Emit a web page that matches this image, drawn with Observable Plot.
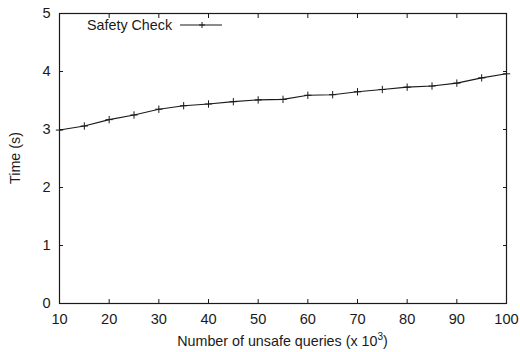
<!DOCTYPE html>
<html>
<head>
<meta charset="utf-8">
<script src="https://cdn.jsdelivr.net/npm/d3@7"></script>
<script src="https://cdn.jsdelivr.net/npm/@observablehq/plot@0.6"></script>
<style>
  html, body { margin: 0; padding: 0; background: #fff; }
</style>
</head>
<body>
<div id="chart"></div>
<script>
const queries = [10, 15, 20, 25, 30, 35, 40, 45, 50, 55, 60, 65, 70, 75, 80, 85, 90, 95, 100];
const times = [2.99, 3.06, 3.17, 3.25, 3.35, 3.41, 3.44, 3.48, 3.51, 3.52, 3.59, 3.60, 3.65, 3.69, 3.73, 3.75, 3.80, 3.89, 3.96];
const xTicks = [10, 20, 30, 40, 50, 60, 70, 80, 90, 100];
const yTicks = [0, 1, 2, 3, 4, 5];
const seriesName = "Safety Check";
const xLabel = "Number of unsafe queries (x 10";
const xLabelSup = "3";
const yLabel = "Time (s)";

const data = queries.map((q, i) => ({q, t: times[i]}));
const ink = "#1a1a1a";
const font = '"Liberation Sans", Arial, sans-serif';
const fs = "14.3px";
const tfs = "14.6px";
const tick = 4;

const plot = Plot.plot({
  width: 520,
  height: 352,
  marginLeft: 59,
  marginRight: 14,
  marginTop: 13,
  marginBottom: 49,
  style: {fontFamily: font, fontSize: fs, color: ink, background: "white"},
  x: {domain: [10, 100]},
  y: {domain: [0, 5]},
  marks: [
    Plot.axisX(xTicks, {anchor: "bottom", tickSize: 0, tickPadding: 10, label: null, fill: ink, tickFormat: "d"}),
    Plot.axisY(yTicks, {anchor: "left", tickSize: 0, tickPadding: 9, label: null, fill: ink, tickFormat: "d"}),
    Plot.axisX(xTicks, {anchor: "bottom", tickSize: tick, dy: -tick, text: null, label: null, stroke: ink}),
    Plot.axisX(xTicks, {anchor: "top", tickSize: tick, dy: tick, text: null, label: null, stroke: ink}),
    Plot.axisY(yTicks, {anchor: "left", tickSize: tick, dx: tick, text: null, label: null, stroke: ink}),
    Plot.axisY(yTicks, {anchor: "right", tickSize: tick, dx: -tick, text: null, label: null, stroke: ink}),
    Plot.frame({stroke: ink, strokeWidth: 1.2}),
    Plot.line(data, {x: "q", y: "t", stroke: ink, strokeWidth: 1.1}),
    Plot.dot(data, {x: "q", y: "t", symbol: "plus", r: 2.5, stroke: ink, strokeWidth: 1})
  ]
});

const svg = d3.select(plot);
svg.selectAll("text").style("font-size", tfs).style("font-family", font);
const txt = (sel) => sel.attr("fill", ink).style("font-family", font).style("font-size", fs);
// legend
const lg = svg.append("g");
lg.append("text").attr("x", 87).attr("y", 30).attr("text-anchor", "start").call(txt).text(seriesName);
lg.append("line").attr("x1", 180).attr("x2", 222).attr("y1", 25).attr("y2", 25).attr("stroke", ink).attr("stroke-width", 1.1);
lg.append("path").attr("d", "M199,25h6M202,22v6").attr("stroke", ink).attr("stroke-width", 1).attr("fill", "none");
// x label
const xl = svg.append("text").attr("x", 282.5).attr("y", 346).attr("text-anchor", "middle").call(txt);
xl.append("tspan").text(xLabel);
xl.append("tspan").attr("dy", -6).style("font-size", "10px").text(xLabelSup);
xl.append("tspan").attr("dy", 6).text(")");
// y label
svg.append("text").attr("transform", "translate(20,158) rotate(-90)").attr("text-anchor", "middle").call(txt).text(yLabel);

document.getElementById("chart").appendChild(plot);
</script>
</body>
</html>
